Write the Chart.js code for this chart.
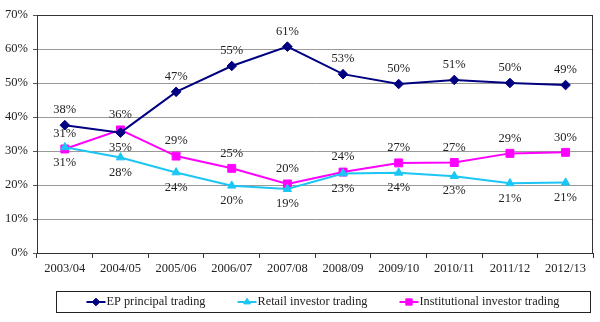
<!DOCTYPE html>
<html>
<head>
<meta charset="utf-8">
<script src="https://cdn.jsdelivr.net/npm/chart.js@4/dist/chart.umd.min.js"></script>
<style>
  html, body { margin: 0; padding: 0; background: #fff; }
  #wrap { width: 600px; height: 322px; position: relative; }
</style>
</head>
<body>
<div id="wrap"><canvas id="c" width="600" height="322"></canvas></div>
<script>
// ---- data ----
const categories = ['2003/04','2004/05','2005/06','2006/07','2007/08','2008/09','2009/10','2010/11','2011/12','2012/13'];
const epValues     = [37.6, 35.4, 47.4, 55.0, 60.7, 52.6, 49.7, 50.9, 50.0, 49.4];
const retailValues = [31.1, 28.1, 23.7, 19.8, 18.8, 23.4, 23.6, 22.6, 20.5, 20.7];
const instValues   = [30.6, 36.2, 28.5, 24.9, 20.3, 23.8, 26.5, 26.6, 29.3, 29.6];
const yTicks = [0, 10, 20, 30, 40, 50, 60, 70];
const seriesNames = ['EP principal trading', 'Retail investor trading', 'Institutional investor trading'];
// label side per point (+1 above, -1 below)
const epLabelSide     = [1, -1, 1, 1, 1, 1, 1, 1, 1, 1];
const retailLabelSide = [-1, -1, -1, -1, -1, -1, -1, -1, -1, -1];
const instLabelSide   = [1, 1, 1, 1, 1, 1, 1, 1, 1, 1];

const FONT = '"Liberation Serif", "Times New Roman", serif';
const TXT = '#222';

const borderPlugin = {
  id: 'plotBorder',
  beforeDatasetsDraw(chart) {
    const a = chart.chartArea, ctx = chart.ctx;
    ctx.save();
    ctx.strokeStyle = '#333';
    ctx.lineWidth = 1;
    ctx.strokeRect(Math.round(a.left) + 0.5, Math.round(a.top) + 0.5, Math.round(a.right - a.left) - 1, Math.round(a.bottom - a.top));
    ctx.restore();
  }
};

const labelPlugin = {
  id: 'valueLabels',
  afterDatasetsDraw(chart) {
    const ctx = chart.ctx;
    ctx.save();
    ctx.font = '12.5px ' + FONT;
    ctx.fillStyle = TXT;
    ctx.textAlign = 'center';
    ctx.textBaseline = 'middle';
    chart.data.datasets.forEach((ds, di) => {
      const meta = chart.getDatasetMeta(di);
      meta.data.forEach((pt, i) => {
        const side = ds.labelSide[i];
        const txt = Math.round(ds.data[i]) + '%';
        ctx.fillText(txt, pt.x, pt.y - side * 15);
      });
    });
    ctx.restore();
  }
};

const legendPlugin = {
  id: 'boxLegend',
  afterDraw(chart) {
    const ctx = chart.ctx;
    const boxL = 56, boxR = 590, boxT = 291, boxB = 312;
    const cy = (boxT + boxB) / 2 + 0.5;
    ctx.save();
    ctx.strokeStyle = '#222';
    ctx.lineWidth = 1;
    ctx.strokeRect(boxL + 0.5, boxT + 0.5, boxR - boxL, boxB - boxT);
    ctx.font = '12.3px ' + FONT;
    const markW = 19, gapT = 1, gapItem = 32;
    const items = chart.data.datasets.map(ds => ({ ds, w: markW + gapT + ctx.measureText(ds.label).width }));
    const total = items.reduce((s, it) => s + it.w, 0) + gapItem * (items.length - 1);
    let x = (boxL + boxR) / 2 - total / 2;
    items.forEach(it => {
      const ds = it.ds;
      ctx.strokeStyle = ds.borderColor;
      ctx.lineWidth = 2;
      ctx.beginPath();
      ctx.moveTo(x, cy); ctx.lineTo(x + markW, cy);
      ctx.stroke();
      ctx.save();
      ctx.fillStyle = ds.backgroundColor; ctx.strokeStyle = ds.borderColor; ctx.lineWidth = 1;
      Chart.helpers.drawPoint(ctx, {
        pointStyle: ds.pointStyle, radius: ds.pointRadius * 0.8, rotation: 0, borderWidth: 1
      }, x + markW / 2, cy);
      ctx.restore();
      ctx.fillStyle = TXT;
      ctx.textAlign = 'left';
      ctx.textBaseline = 'middle';
      ctx.fillText(ds.label, x + markW + gapT, cy);
      x += it.w + gapItem;
    });
    ctx.restore();
  }
};

function mkDataset(label, data, color, style, radius, side) {
  return {
    label, data,
    borderColor: color, backgroundColor: color,
    pointBackgroundColor: color, pointBorderColor: color,
    pointStyle: style, pointRadius: radius, pointHoverRadius: radius,
    pointBorderWidth: 1,
    borderWidth: 2, tension: 0, fill: false,
    labelSide: side
  };
}

new Chart(document.getElementById('c'), {
  type: 'line',
  data: {
    labels: categories,
    datasets: [
      mkDataset(seriesNames[0], epValues, '#000080', 'rectRot', 4.8, epLabelSide),
      mkDataset(seriesNames[1], retailValues, '#1CC6F4', 'triangle', 4.8, retailLabelSide),
      mkDataset(seriesNames[2], instValues, '#FF00FF', 'rect', 5.6, instLabelSide)
    ]
  },
  options: {
    responsive: false,
    animation: false,
    devicePixelRatio: 1,
    layout: { padding: { left: 0, right: 5, top: 15, bottom: 47 } },
    plugins: { legend: { display: false }, tooltip: { enabled: false } },
    scales: {
      x: {
        offset: true,
        grid: { offset: true, drawOnChartArea: false, drawTicks: true, tickLength: 5, color: '#333' },
        border: { display: true, color: '#333' },
        ticks: { font: { family: FONT, size: 12.5 }, color: TXT, padding: 3, maxRotation: 0, autoSkip: false },
        afterFit(scale) { scale.height = 22; }
      },
      y: {
        min: 0, max: 70,
        afterBuildTicks(scale) { scale.ticks = yTicks.map(v => ({ value: v })); },
        grid: {
          color: ctx => (ctx.tick && (ctx.tick.value === 0 || ctx.tick.value === 70)) ? 'rgba(0,0,0,0)' : '#999',
          tickColor: '#555',
          borderDash: [7, 4],
          lineWidth: 1,
          drawTicks: true, tickLength: 4
        },
        border: { display: true, color: '#333' },
        ticks: { font: { family: FONT, size: 12.5 }, color: TXT, padding: 5, callback: v => v + '%' },
        afterFit(scale) { scale.width = 37; }
      }
    }
  },
  plugins: [borderPlugin, labelPlugin, legendPlugin]
});
</script>
</body>
</html>
